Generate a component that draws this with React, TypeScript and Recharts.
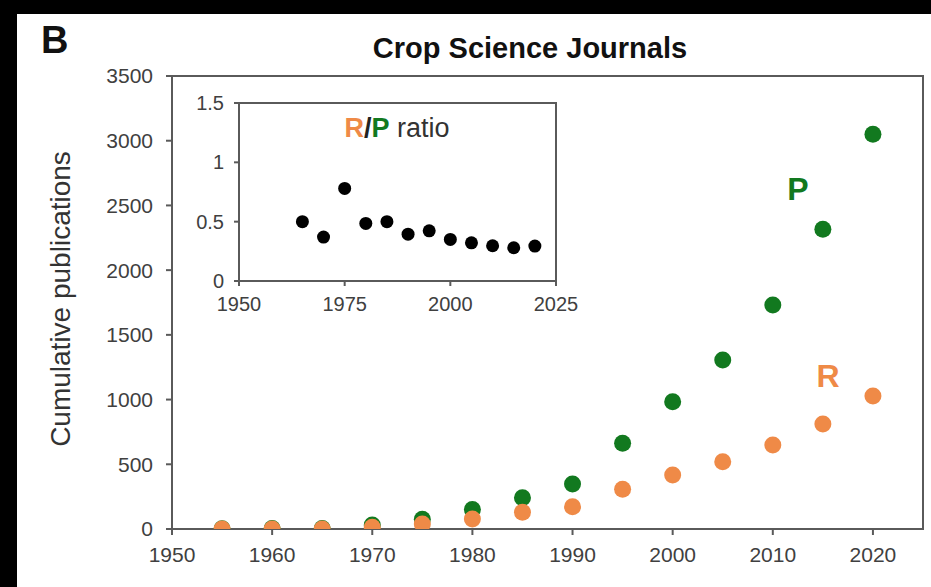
import React from 'react';
import { ScatterChart, Scatter, XAxis, YAxis, ReferenceArea } from 'recharts';

const years = [1955, 1960, 1965, 1970, 1975, 1980, 1985, 1990, 1995, 2000, 2005, 2010, 2015, 2020];
const pValues = [2, 3, 4, 30, 75, 150, 242, 348, 662, 984, 1306, 1731, 2316, 3050];
const rValues = [0, 0, 0, 13, 39, 77, 129, 172, 307, 417, 520, 649, 811, 1028];

const ratioYears = [1965, 1970, 1975, 1980, 1985, 1990, 1995, 2000, 2005, 2010, 2015, 2020];
const ratioValues = [0.5, 0.37, 0.78, 0.485, 0.5, 0.395, 0.423, 0.35, 0.322, 0.297, 0.28, 0.294];

const mainXTicks = [1950, 1960, 1970, 1980, 1990, 2000, 2010, 2020];
const mainYTicks = [0, 500, 1000, 1500, 2000, 2500, 3000, 3500];
const insetXTicks = [1950, 1975, 2000, 2025];
const insetYTicks = [0, 0.5, 1, 1.5];

const GREEN = '#12791f';
const ORANGE = '#ef8a47';
const AXIS = '#5a5a5a';
const TICKTXT = '#404040';
const FONT = '"Liberation Sans", Arial, Helvetica, sans-serif';

const pData = years.map((y, i) => ({ x: y, y: pValues[i] }));
const rData = years.map((y, i) => ({ x: y, y: rValues[i] }));
const ratioData = ratioYears.map((y, i) => ({ x: y, y: ratioValues[i] }));

const dot = (r: number, fill: string) => (props: any) => (
  <circle cx={props.cx} cy={props.cy} r={r} fill={fill} />
);

export default function App() {
  return (
    <div style={{ position: 'absolute', left: 0, top: 0, width: 931, height: 587, background: '#000', overflow: 'hidden' }}>
      <div style={{ position: 'absolute', left: 17, top: 14, width: 914, height: 573, background: '#fff' }} />
      <div style={{ position: 'absolute', left: 0, top: 0 }}>
        <ScatterChart width={931} height={587} margin={{ top: 76, right: 8, bottom: 28, left: 112 }}>
          <XAxis
            type="number"
            dataKey="x"
            domain={[1950, 2025]}
            ticks={mainXTicks}
            interval={0}
            allowDataOverflow
            height={30}
            tickSize={6}
            tickMargin={12}
            axisLine={{ stroke: AXIS, strokeWidth: 2 }}
            tickLine={{ stroke: AXIS, strokeWidth: 2 }}
            tick={{ fill: TICKTXT, fontSize: 21, fontFamily: FONT }}
          />
          <YAxis
            type="number"
            dataKey="y"
            domain={[0, 3500]}
            ticks={mainYTicks}
            interval={0}
            allowDataOverflow
            width={60}
            tickSize={6}
            tickMargin={13}
            axisLine={{ stroke: AXIS, strokeWidth: 2 }}
            tickLine={{ stroke: AXIS, strokeWidth: 2 }}
            tick={{ fill: TICKTXT, fontSize: 21, fontFamily: FONT }}
          />
          <ReferenceArea x1={1950} x2={2025} y1={0} y2={3500} fill="none" stroke={AXIS} strokeWidth={2} />
          <Scatter data={pData} isAnimationActive={false} shape={dot(8.5, GREEN)} />
          <Scatter data={rData} isAnimationActive={false} shape={dot(8.5, ORANGE)} />
        </ScatterChart>
      </div>
      <div style={{ position: 'absolute', left: 0, top: 0 }}>
        <ScatterChart width={600} height={320} margin={{ top: 103, right: 44, bottom: 9, left: 199 }}>
          <XAxis
            type="number"
            dataKey="x"
            domain={[1950, 2025]}
            ticks={insetXTicks}
            interval={0}
            allowDataOverflow
            height={30}
            tickSize={5}
            tickMargin={11}
            axisLine={{ stroke: AXIS, strokeWidth: 2 }}
            tickLine={{ stroke: AXIS, strokeWidth: 2 }}
            tick={{ fill: TICKTXT, fontSize: 20, fontFamily: FONT }}
          />
          <YAxis
            type="number"
            dataKey="y"
            domain={[0, 1.5]}
            ticks={insetYTicks}
            interval={0}
            allowDataOverflow
            width={40}
            tickSize={5}
            tickMargin={10}
            axisLine={{ stroke: AXIS, strokeWidth: 2 }}
            tickLine={{ stroke: AXIS, strokeWidth: 2 }}
            tick={{ fill: TICKTXT, fontSize: 20, fontFamily: FONT }}
          />
          <ReferenceArea x1={1950} x2={2025} y1={0} y2={1.5} fill="none" stroke={AXIS} strokeWidth={2} />
          <Scatter data={ratioData} isAnimationActive={false} shape={dot(6.5, '#000')} />
        </ScatterChart>
      </div>
      <svg width={931} height={587} style={{ position: 'absolute', left: 0, top: 0, pointerEvents: 'none' }}>
        <text x={41} y={53} fontSize={38} fontWeight="bold" fill="#111" fontFamily={FONT}>B</text>
        <text x={530} y={58} fontSize={29} fontWeight="bold" fill="#111" textAnchor="middle" fontFamily={FONT}>Crop Science Journals</text>
        <text x={70} y={299} fontSize={28} fill="#333" textAnchor="middle" fontFamily={FONT} transform="rotate(-90 70 299)">Cumulative publications</text>
        <text x={397} y={137} fontSize={27} textAnchor="middle" fontFamily={FONT} fill="#333">
          <tspan fill={ORANGE} fontWeight="bold">R</tspan>
          <tspan fill="#222" fontWeight="bold">/</tspan>
          <tspan fill={GREEN} fontWeight="bold">P</tspan>
          <tspan fill="#333"> ratio</tspan>
        </text>
        <text x={798} y={200} fontSize={32} fontWeight="bold" fill={GREEN} textAnchor="middle" fontFamily={FONT}>P</text>
        <text x={828} y={387} fontSize={32} fontWeight="bold" fill={ORANGE} textAnchor="middle" fontFamily={FONT}>R</text>
      </svg>
    </div>
  );
}
